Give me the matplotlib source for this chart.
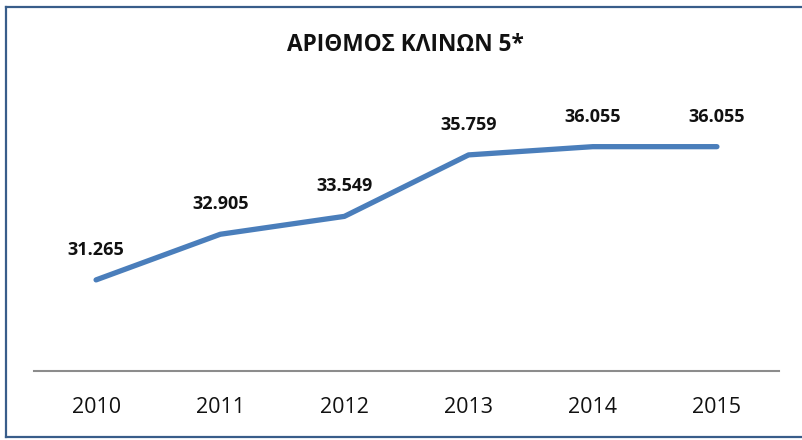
import matplotlib
matplotlib.use("Agg")
import matplotlib.pyplot as plt
from matplotlib.lines import Line2D

plt.rcParams['font.family'] = ['Open Sans', 'DejaVu Sans']

# dedomena
years = ['2010', '2011', '2012', '2013', '2014', '2015']
beds = [31265, 32905, 33549, 35759, 36055, 36055]
labels = ['31.265', '32.905', '33.549', '35.759', '36.055', '36.055']

fig = plt.figure(figsize=(8.02, 4.40), dpi=100)
ax = fig.add_axes([34 / 802, 0.1575, 745 / 802, 0.5689])

x = list(range(len(years)))
ax.plot(x, beds, color='#4a7ebb', linewidth=3.8, solid_capstyle='round', solid_joinstyle='round')

for xi, yi, lab in zip(x, beds, labels):
    ax.annotate(lab, (xi, yi), xytext=(0, 21.6), textcoords='offset points',
                ha='center', va='center', fontsize=13, fontweight='bold', color='#111111')

ax.set_xlim(-0.5, 5.5)
ax.set_ylim(28000, 37000)
ax.set_xticks(x)
ax.set_xticklabels(years, fontsize=15.5, color='#111111')
ax.tick_params(axis='x', length=0, pad=19)
ax.set_yticks([])
for s in ['top', 'right', 'left']:
    ax.spines[s].set_visible(False)
ax.spines['bottom'].set_color('#8c8c8c')
ax.spines['bottom'].set_linewidth(1.5)

fig.text(405 / 802, 1 - 45 / 440, 'ΑΡΙΘΜΟΣ ΚΛΙΝΩΝ 5*', ha='center', va='center',
         fontsize=16.3, fontweight='bold', color='#111111')

# plaisio
bc = '#385d8a'
fig.add_artist(Line2D([5.5 / 802, 5.5 / 802], [1 - 7 / 440, 1 - 437 / 440], color=bc, linewidth=1.6, transform=fig.transFigure))
fig.add_artist(Line2D([5.5 / 802, 1], [1 - 7 / 440, 1 - 7 / 440], color=bc, linewidth=1.6, transform=fig.transFigure))
fig.add_artist(Line2D([5.5 / 802, 1], [1 - 437 / 440, 1 - 437 / 440], color=bc, linewidth=1.6, transform=fig.transFigure))

fig.savefig('out.png', dpi=100)
